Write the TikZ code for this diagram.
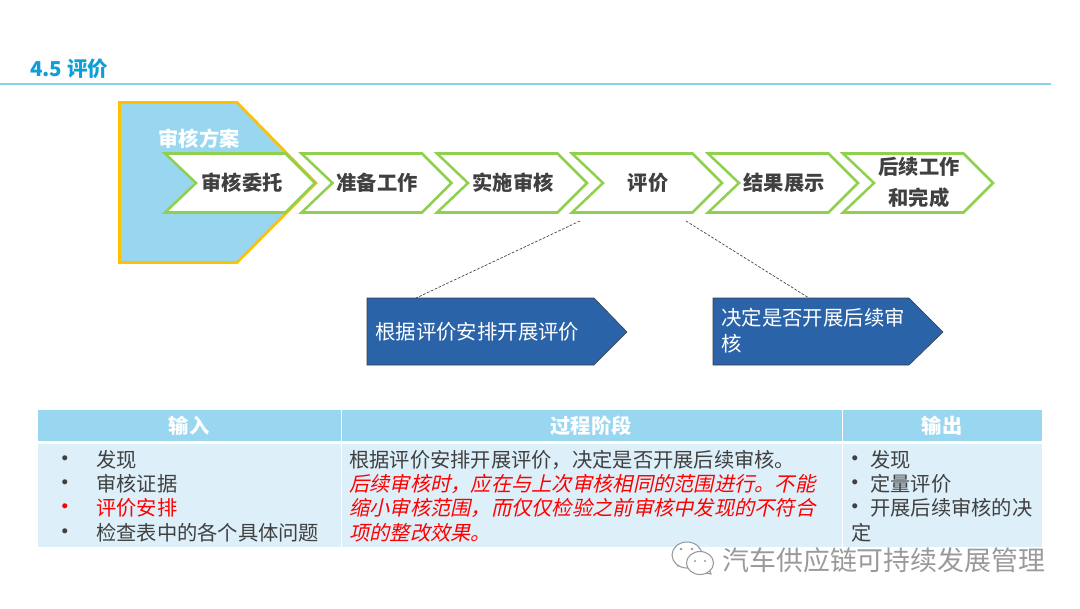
\documentclass[tikz,border=0pt]{standalone}
\usepackage{fontspec}
\setmainfont{Noto Sans CJK SC}[AutoFakeSlant=0.22]
\newfontfamily\dotfont{Liberation Sans}
\definecolor{skyfill}{HTML}{99D6F0}
\definecolor{bodyfill}{HTML}{DDEFF9}
\definecolor{gold}{HTML}{FFC000}
\definecolor{leaf}{HTML}{8FD14F}
\definecolor{navy}{HTML}{2B63A8}
\definecolor{inktext}{HTML}{404040}
\definecolor{titleblue}{HTML}{0F9ED5}
\definecolor{rule}{HTML}{8AD3F0}
\definecolor{redtext}{HTML}{FF0000}
\definecolor{markgray}{HTML}{9A9A9A}
\tikzset{
  x=0.75pt,y=-0.75pt,
  chev/.style={draw=leaf,line width=1.9pt,fill=white,line join=miter},
  chevtext/.style={font=\fontsize{15.2}{18}\selectfont\bfseries,text=inktext,inner sep=0pt},
  headtext/.style={font=\fontsize{15.2}{18}\selectfont\bfseries,text=white,inner sep=0pt},
  bodytext/.style={font=\fontsize{15.2}{18}\selectfont,text=inktext,inner sep=0pt,anchor=west},
  dotmark/.style={font=\dotfont\fontsize{14}{16}\selectfont,text=inktext,inner sep=0pt,anchor=center},
  redline/.style={bodytext,text=redtext,font=\fontsize{15.2}{18}\selectfont\itshape},
  bluearrow/.style={draw=inktext,line width=0.45pt,fill=navy},
  bluetext/.style={font=\fontsize{15.3}{18}\selectfont,text=white,inner sep=0pt,anchor=west},
  dashlink/.style={draw=inktext,line width=0.5pt,dash pattern=on 2pt off 1.2pt},
  wechat/.style={draw=markgray,line width=0.8pt,fill=white},
}
\newcommand{\chevron}[1]{%
  \path[chev] (#1,153.5) -- ++(120.5,0) -- ++(29.5,29.5) -- ++(-29.5,29.5) -- ++(-120.5,0) -- ++(31,-29.5) -- cycle;}
\begin{document}
\begin{tikzpicture}
\useasboundingbox (0,0) rectangle (1080,608);
\fill[white] (0,0) rectangle (1080,608);

% title
\node[anchor=west,inner sep=0pt,text=titleblue,font=\fontsize{15.4}{18}\selectfont\bfseries] (title) at (30,69) {4.5 评价};
\draw[draw=rule,line width=1pt] (0,84) -- (1051,84);

% programme pentagon
\path[draw=gold,line width=2pt,fill=skyfill,line join=miter]
  (119.5,102.5) -- (237,102.5) -- (316,183) -- (237,262.5) -- (119.5,262.5) -- cycle;
\node[headtext] (prog) at (199,139) {审核方案};

% chevrons
\chevron{165}\chevron{301.5}\chevron{437}\chevron{572}\chevron{708}\chevron{843}
\node[chevtext] (c1) at (242,183) {审核委托};
\node[chevtext] (c2) at (377,183) {准备工作};
\node[chevtext] (c3) at (513,183) {实施审核};
\node[chevtext] (c4) at (648,183) {评价};
\node[chevtext] (c5) at (784,183) {结果展示};
\node[chevtext] (c6a) at (919,167) {后续工作};
\node[chevtext] (c6b) at (919,198) {和完成};

% blue arrows
\path[bluearrow] (367,298) -- (594,298) -- (627,332) -- (594,365) -- (367,365) -- cycle;
\path[bluearrow] (713,298) -- (909,298) -- (943,332) -- (909,365) -- (713,365) -- cycle;
\node[bluetext] (a1) at (375,332) {根据评价安排开展评价};
\node[bluetext] (a2a) at (721,318) {决定是否开展后续审};
\node[bluetext] (a2b) at (721,344) {核};

% dashed connectors
\coordinate (d1s) at (580,221);
\coordinate (d1e) at (416,298);
\coordinate (d2s) at (686,221);
\coordinate (d2e) at (809,298);
\draw[dashlink] (d1s) -- (d1e);
\draw[dashlink] (d2s) -- (d2e);

% table
\fill[skyfill] (38,410) rectangle (1042,441);
\fill[bodyfill] (38,444) rectangle (1042,547);
\draw[white,line width=0.6pt] (341,410) -- (341,547);
\draw[white,line width=0.6pt] (842,410) -- (842,547);
\node[headtext] (h1) at (189,426) {输入};
\node[headtext] (h2) at (591,426) {过程阶段};
\node[headtext] (h3) at (942,426) {输出};

% input column
\node[dotmark] (b1) at (65,460) {•};
\node[dotmark] (b2) at (65,484) {•};
\node[dotmark,text=redtext] (b3) at (65,508) {•};
\node[dotmark] (b4) at (65,533) {•};
\node[bodytext] (i1) at (96,460) {发现};
\node[bodytext] (i2) at (96,484) {审核证据};
\node[bodytext,text=redtext] (i3) at (96,508) {评价安排};
\node[bodytext] (i4) at (96,533) {检查表中的各个具体问题};

% process column
\node[bodytext] (p1) at (349,460) {根据评价安排开展评价，决定是否开展后续审核。};
\node[redline] (p2) at (349,484) {后续审核时，应在与上次审核相同的范围进行。不能};
\node[redline] (p3) at (349,508) {缩小审核范围，而仅仅检验之前审核中发现的不符合};
\node[redline] (p4) at (349,533) {项的整改效果。};

% output column
\node[dotmark] (b5) at (855,460) {•};
\node[dotmark] (b6) at (855,484) {•};
\node[dotmark] (b7) at (855,508) {•};
\node[bodytext] (o1) at (870,460) {发现};
\node[bodytext] (o2) at (870,484) {定量评价};
\node[bodytext] (o3) at (870,508) {开展后续审核的决};
\node[bodytext] (o4) at (851,533) {定};

% watermark
\path[wechat] (678,566) -- (680,558) -- (690,562) -- cycle;
\path[wechat] (687,555) ellipse [x radius=15,y radius=13];
\path[wechat] (711,574) -- (708,566) -- (700,572) -- cycle;
\path[wechat] (700,563) ellipse [x radius=13.5,y radius=11.5];
\fill[markgray] (681,549) circle (1.4) (692,549) circle (1.4) (695,561) circle (1.2) (705,561) circle (1.2);
\node[anchor=west,inner sep=0pt,text=markgray,font=\fontsize{20.2}{24}\selectfont] (wm) at (722,560) {汽车供应链可持续发展管理};
\end{tikzpicture}
\end{document}
